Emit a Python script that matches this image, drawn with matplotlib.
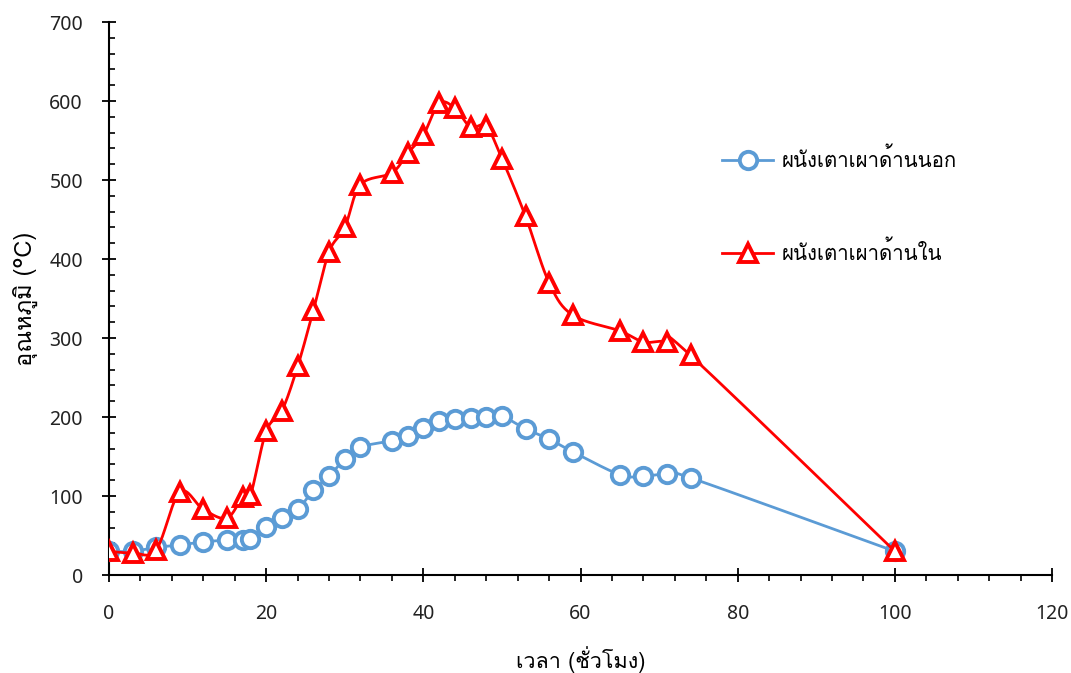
import numpy as np
import matplotlib
matplotlib.use("Agg")
import matplotlib.pyplot as plt
from matplotlib import font_manager
from matplotlib.ft2font import FT2Font

# ---------------- data ----------------
time_h = [0, 3, 6, 9, 12, 15, 17, 18, 20, 22, 24, 26, 28, 30, 32, 36, 38, 40,
          42, 44, 46, 48, 50, 53, 56, 59, 65, 68, 71, 74, 100]
outer_wall = [30, 30, 35, 38, 42, 44, 44, 46, 61, 72, 83, 107, 125, 147, 162, 170,
              176, 186, 195, 197, 199, 200, 201, 185, 172, 156, 127, 125, 128, 123, 30]
inner_wall = [30, 28, 32, 105, 83, 72, 99, 101, 182, 208, 264, 335, 409, 440, 494,
              509, 534, 557, 597, 591, 567, 568, 527, 454, 370, 329, 309, 295, 295,
              278, 30]
label_outer = "ผนังเตาเผาด้านนอก"
label_inner = "ผนังเตาเผาด้านใน"
xlabel = "เวลา (ชั่วโมง)"
ylabel = "อุณหภูมิ (°C)"
xticks = [0, 20, 40, 60, 80, 100, 120]
yticks = [0, 100, 200, 300, 400, 500, 600, 700]

# ---------------- font with Thai glyphs ----------------
thai_family = None
for fe in font_manager.fontManager.ttflist:
    try:
        cmap = FT2Font(fe.fname).get_charmap()
    except Exception:
        continue
    if 0x0E1C in cmap and 0x0E34 in cmap:
        thai_family = fe.name
        break
families = ([thai_family] if thai_family else []) + ["DejaVu Sans"]
plt.rcParams['font.family'] = families
num_font = ["Noto Sans", "DejaVu Sans"]


def smooth(x, y, n=20):
    """Catmull-Rom style smoothing (like Excel smoothed lines)."""
    x = np.asarray(x, float)
    y = np.asarray(y, float)
    xs, ys = [x[0]], [y[0]]
    for i in range(len(x) - 1):
        p0 = np.array([x[i - 1], y[i - 1]]) if i > 0 else np.array([x[i], y[i]])
        p1 = np.array([x[i], y[i]])
        p2 = np.array([x[i + 1], y[i + 1]])
        p3 = np.array([x[i + 2], y[i + 2]]) if i + 2 < len(x) else p2
        c1 = p1 + (p2 - p0) / 6.0
        c2 = p2 - (p3 - p1) / 6.0
        t = np.linspace(0, 1, n)[1:]
        pts = ((1 - t) ** 3)[:, None] * p1 + (3 * (1 - t) ** 2 * t)[:, None] * c1 \
            + (3 * (1 - t) * t ** 2)[:, None] * c2 + (t ** 3)[:, None] * p2
        xs.extend(pts[:, 0])
        ys.extend(pts[:, 1])
    return np.array(xs), np.array(ys)


fig = plt.figure(figsize=(10.71, 6.73), dpi=100)
ax = fig.add_axes([0.1018, 0.1456, 0.8805, 0.8217])

blue = "#5B9BD5"
red = "#FF0000"
ms = 12.5
mew = 2.8

bx, by = smooth(time_h, outer_wall)
rx, ry = smooth(time_h, inner_wall)
ax.plot(bx, by, color=blue, lw=2.0, zorder=2)
ax.plot(time_h, outer_wall, linestyle='none', marker='o', ms=ms, mfc='white',
        mec=blue, mew=mew, zorder=3)
ax.plot(rx, ry, color=red, lw=2.0, zorder=4)
ax.plot(time_h, inner_wall, linestyle='none', marker='^', ms=ms, mfc='white',
        mec=red, mew=mew, zorder=5)

# legend proxies
h1, = ax.plot([], [], color=blue, lw=2.0, marker='o', ms=ms, mfc='white', mec=blue, mew=mew)
h2, = ax.plot([], [], color=red, lw=2.0, marker='^', ms=ms, mfc='white', mec=red, mew=mew)
ax.legend([h1, h2], [label_outer, label_inner], loc='upper left',
          bbox_to_anchor=(0.631, 0.806), frameon=False, fontsize=14.7,
          handlelength=2.5, labelspacing=3.4, handletextpad=0.4)

ax.set_xlim(0, 120)
ax.set_ylim(0, 700)
ax.set_xticks(xticks)
ax.set_yticks(yticks)
ax.set_xticks(np.arange(0, 121, 4), minor=True)
ax.set_yticks(np.arange(0, 701, 20), minor=True)

for s in ['top', 'right']:
    ax.spines[s].set_visible(False)
for s in ['left', 'bottom']:
    ax.spines[s].set_linewidth(1.5)
    ax.spines[s].set_color('black')

ax.tick_params(axis='both', which='major', direction='inout', length=9.5, width=1.3,
               labelsize=14, colors='black')
ax.tick_params(axis='x', which='major', pad=16)
ax.tick_params(axis='y', which='major', pad=14)
ax.tick_params(axis='x', which='minor', direction='out', length=4, width=1.2)
ax.tick_params(axis='y', which='minor', direction='in', length=4, width=1.2)
for lab in ax.get_xticklabels() + ax.get_yticklabels():
    lab.set_family(num_font)
    lab.set_color('#222222')

ax.set_xlabel(xlabel, fontsize=15.5, labelpad=16)
ax.set_ylabel(ylabel, fontsize=17, labelpad=8)

fig.savefig("out.png", dpi=100)
